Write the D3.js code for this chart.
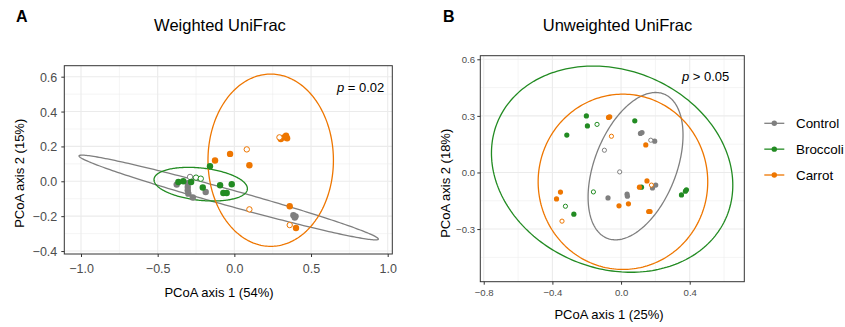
<!DOCTYPE html>
<html>
<head>
<meta charset="utf-8">
<script src="https://d3js.org/d3.v7.min.js"></script>
<style>
  body { margin: 0; background: #fff; }
  svg { font-family: "Liberation Sans", Arial, sans-serif; }
</style>
</head>
<body>
<div id="container"></div>
<script>
var groups = ["Control", "Broccoli", "Carrot"];

// points as [axis1, axis2, open]
var weightedControl = [
  [-0.376, -0.019, 0], [-0.304, -0.011, 0], [-0.304, -0.033, 0], [-0.304, -0.052, 0],
  [-0.300, -0.071, 0], [-0.271, -0.093, 0], [-0.187, -0.061, 0], [0.385, -0.195, 0],
  [0.394, -0.208, 0], [0.399, -0.201, 0], [-0.289, 0.025, 1]
];
var weightedBroccoli = [
  [-0.365, -0.004, 0], [-0.333, 0.000, 0], [-0.282, -0.004, 0], [-0.206, -0.036, 0],
  [-0.159, 0.086, 0], [-0.093, -0.023, 0], [-0.017, -0.017, 0], [-0.072, -0.067, 0],
  [-0.050, -0.067, 0], [-0.250, 0.021, 1], [-0.219, 0.015, 1]
];
var weightedCarrot = [
  [-0.028, 0.157, 0], [-0.126, 0.119, 0], [0.098, 0.092, 0], [0.303, 0.243, 0],
  [0.337, 0.262, 0], [0.344, 0.247, 0], [0.324, 0.252, 0], [0.361, -0.143, 0],
  [0.402, -0.268, 0], [0.294, 0.252, 1], [0.081, 0.183, 1], [0.098, -0.161, 1],
  [0.361, -0.251, 1]
];

var unweightedControl = [
  [0.113, 0.207, 0], [0.122, 0.212, 0], [0.196, 0.166, 0], [-0.076, -0.135, 0],
  [0.035, -0.115, 0], [0.037, -0.126, 0], [0.183, -0.082, 0], [0.202, -0.067, 0],
  [-0.097, 0.118, 1], [0.173, 0.171, 1], [-0.008, 0.003, 1]
];
var unweightedBroccoli = [
  [-0.202, 0.300, 0], [-0.196, 0.247, 0], [-0.316, 0.198, 0], [-0.275, -0.221, 0],
  [0.080, 0.274, 0], [0.119, -0.078, 0], [0.352, -0.119, 0], [0.375, -0.099, 0],
  [0.381, -0.092, 0], [-0.140, 0.255, 1], [-0.161, -0.103, 1], [-0.324, -0.179, 1]
];
var unweightedCarrot = [
  [-0.073, 0.292, 0], [-0.066, 0.295, 0], [0.144, 0.146, 0], [-0.353, -0.104, 0],
  [-0.376, -0.140, 0], [0.151, -0.045, 0], [0.107, -0.078, 0], [-0.012, -0.177, 0],
  [0.043, -0.166, 0], [0.161, -0.207, 0], [0.169, -0.207, 0], [-0.056, 0.192, 1],
  [-0.344, -0.258, 1], [0.177, -0.067, 1]
];

// ellipses as [cx, cy, rx, ry, phase]
var weightedEllipses = [
  [-0.037, -0.093, 0.976, 0.243, 2.942],
  [-0.2195, -0.0165, 0.3045, 0.0965, 1.838],
  [0.237, 0.121, 0.409, 0.494, 1.571]
];
var unweightedEllipses = [
  [0.0845, 0.0335, 0.2765, 0.3905, 1.136],
  [-0.052, 0.0175, 0.703, 0.5465, 1.727],
  [0.011, -0.0495, 0.494, 0.4645, 1.571]
];

var weightedXTicks = [-1, -0.5, 0, 0.5, 1];
var weightedXMinor = [-0.75, -0.25, 0.25, 0.75];
var weightedYTicks = [-0.4, -0.2, 0, 0.2, 0.4, 0.6];
var weightedYMinor = [-0.3, -0.1, 0.1, 0.3, 0.5];
var unweightedXTicks = [-0.8, -0.4, 0, 0.4];
var unweightedXMinor = [-0.6, -0.2, 0.2, 0.6];
var unweightedYTicks = [-0.3, 0, 0.3, 0.6];
var unweightedYMinor = [-0.45, -0.15, 0.15, 0.45];

var palette = ["#7f7f7f", "#228b22", "#ee7600"];
var fmt = function(d) { return d3.format(".1f")(d).replace("-", "\u2212"); };

var svg = d3.select("#container").append("svg")
  .attr("width", 845)
  .attr("height", 327);

function drawPanel(cfg) {
  var x = d3.scaleLinear().domain(cfg.xDomain).range([cfg.left, cfg.right]);
  var y = d3.scaleLinear().domain(cfg.yDomain).range([cfg.bottom, cfg.top]);
  var g = svg.append("g");

  g.selectAll(".gx").data(cfg.xMinor).enter().append("line")
    .attr("x1", function(d) { return x(d); }).attr("x2", function(d) { return x(d); })
    .attr("y1", cfg.top).attr("y2", cfg.bottom)
    .attr("stroke", "#ebebeb").attr("stroke-width", 0.55);
  g.selectAll(".gy").data(cfg.yMinor).enter().append("line")
    .attr("y1", function(d) { return y(d); }).attr("y2", function(d) { return y(d); })
    .attr("x1", cfg.left).attr("x2", cfg.right)
    .attr("stroke", "#ebebeb").attr("stroke-width", 0.55);
  g.selectAll(".mx").data(cfg.xTicks).enter().append("line")
    .attr("x1", function(d) { return x(d); }).attr("x2", function(d) { return x(d); })
    .attr("y1", cfg.top).attr("y2", cfg.bottom)
    .attr("stroke", "#ebebeb").attr("stroke-width", 1.1);
  g.selectAll(".my").data(cfg.yTicks).enter().append("line")
    .attr("y1", function(d) { return y(d); }).attr("y2", function(d) { return y(d); })
    .attr("x1", cfg.left).attr("x2", cfg.right)
    .attr("stroke", "#ebebeb").attr("stroke-width", 1.1);

  var ell = d3.line()
    .x(function(t) { return t[0]; })
    .y(function(t) { return t[1]; })
    .curve(d3.curveLinearClosed);
  var steps = d3.range(0, 2 * Math.PI, Math.PI / 120);
  cfg.ellipses.forEach(function(e, i) {
    var pts = steps.map(function(t) {
      return [x(e[0] + e[2] * Math.cos(t)), y(e[1] + e[3] * Math.cos(t - e[4]))];
    });
    g.append("path")
      .attr("d", ell(pts))
      .attr("fill", "none")
      .attr("stroke", palette[i])
      .attr("stroke-width", 1.3);
  });

  cfg.points.forEach(function(set, i) {
    g.selectAll(null).data(set).enter().append("circle")
      .attr("cx", function(d) { return x(d[0]); })
      .attr("cy", function(d) { return y(d[1]); })
      .attr("r", function(d) { return d[2] ? cfg.r - 0.5 : cfg.r; })
      .attr("fill", function(d) { return d[2] ? "#fff" : palette[i]; })
      .attr("stroke", function(d) { return d[2] ? palette[i] : "none"; })
      .attr("stroke-width", 1);
  });

  g.append("rect")
    .attr("x", cfg.left).attr("y", cfg.top)
    .attr("width", cfg.right - cfg.left).attr("height", cfg.bottom - cfg.top)
    .attr("fill", "none").attr("stroke", "#333333").attr("stroke-width", 1);

  var xAxis = g.append("g")
    .attr("transform", "translate(0," + cfg.bottom + ")")
    .call(d3.axisBottom(x).tickValues(cfg.xTicks).tickSize(3).tickFormat(fmt));
  xAxis.selectAll("text").attr("dy", null).attr("y", cfg.xLabelY)
    .style("font-size", cfg.tickFont + "px");
  var yAxis = g.append("g")
    .attr("transform", "translate(" + cfg.left + ",0)")
    .call(d3.axisLeft(y).tickValues(cfg.yTicks).tickSize(3).tickPadding(cfg.yPad).tickFormat(fmt));
  yAxis.selectAll("text").attr("dy", "0.36em").style("font-size", cfg.tickFont + "px");
  [xAxis, yAxis].forEach(function(a) {
    a.select(".domain").remove();
    a.selectAll("line").attr("stroke", "#333333");
    a.selectAll("text").attr("fill", "#4d4d4d").style("font-family", "'Liberation Sans', Arial, sans-serif");
  });

  g.append("text")
    .attr("x", cfg.titleX).attr("y", 31)
    .attr("text-anchor", "middle")
    .style("font-size", "16.5px")
    .text(cfg.title);
  g.append("text")
    .attr("x", cfg.letterX).attr("y", 21.5)
    .style("font-size", "16px").style("font-weight", "bold")
    .text(cfg.letter);
  g.append("text")
    .attr("x", cfg.xTitleX).attr("y", cfg.xTitleY)
    .attr("text-anchor", "middle")
    .style("font-size", "13px")
    .text(cfg.xTitle);
  g.append("text")
    .attr("transform", "translate(" + cfg.yTitleX + "," + cfg.yTitleY + ") rotate(-90)")
    .attr("text-anchor", "middle")
    .style("font-size", "13px")
    .text(cfg.yTitle);
  var p = g.append("text")
    .attr("x", cfg.pX).attr("y", cfg.pY)
    .attr("text-anchor", "end")
    .style("font-size", "13px");
  p.append("tspan").style("font-style", "italic").text("p");
  p.append("tspan").text(cfg.pText);
}

drawPanel({
  left: 64.3, right: 392.3, top: 65.7, bottom: 254,
  xDomain: [-1.109, 1.03], yDomain: [-0.417, 0.663],
  xTicks: weightedXTicks, xMinor: weightedXMinor,
  yTicks: weightedYTicks, yMinor: weightedYMinor,
  ellipses: weightedEllipses,
  points: [weightedControl, weightedBroccoli, weightedCarrot],
  r: 3.2, tickFont: 12.5, xLabelY: 18.5, yPad: 4,
  title: "Weighted UniFrac", titleX: 220,
  letter: "A", letterX: 16,
  xTitle: "PCoA axis 1 (54%)", xTitleX: 219, xTitleY: 296.5,
  yTitle: "PCoA axis 2 (15%)", yTitleX: 23.8, yTitleY: 173.3,
  pX: 384.3, pY: 92, pText: " = 0.02"
});

drawPanel({
  left: 480.3, right: 744.3, top: 55.7, bottom: 281.7,
  xDomain: [-0.82, 0.718], yDomain: [-0.579, 0.619],
  xTicks: unweightedXTicks, xMinor: unweightedXMinor,
  yTicks: unweightedYTicks, yMinor: unweightedYMinor,
  ellipses: unweightedEllipses,
  points: [unweightedControl, unweightedBroccoli, unweightedCarrot],
  r: 2.6, tickFont: 9.6, xLabelY: 14.8, yPad: 2.3,
  title: "Unweighted UniFrac", titleX: 617.5,
  letter: "B", letterX: 443,
  xTitle: "PCoA axis 1 (25%)", xTitleX: 609, xTitleY: 318.6,
  yTitle: "PCoA axis 2 (18%)", yTitleX: 449.5, yTitleY: 183.3,
  pX: 729.3, pY: 81, pText: " > 0.05"
});

var legendY = d3.scalePoint().domain(groups).range([123.3, 175]);
var legend = svg.append("g");
groups.forEach(function(name, i) {
  var yy = legendY(name);
  legend.append("line")
    .attr("x1", 764.3).attr("x2", 784.3).attr("y1", yy).attr("y2", yy)
    .attr("stroke", palette[i]).attr("stroke-width", 1.3);
  legend.append("circle")
    .attr("cx", 774.3).attr("cy", yy).attr("r", 2.7)
    .attr("fill", palette[i]);
  legend.append("text")
    .attr("x", 796).attr("y", yy + 4.7)
    .style("font-size", "13.4px")
    .text(name);
});
</script>
</body>
</html>
